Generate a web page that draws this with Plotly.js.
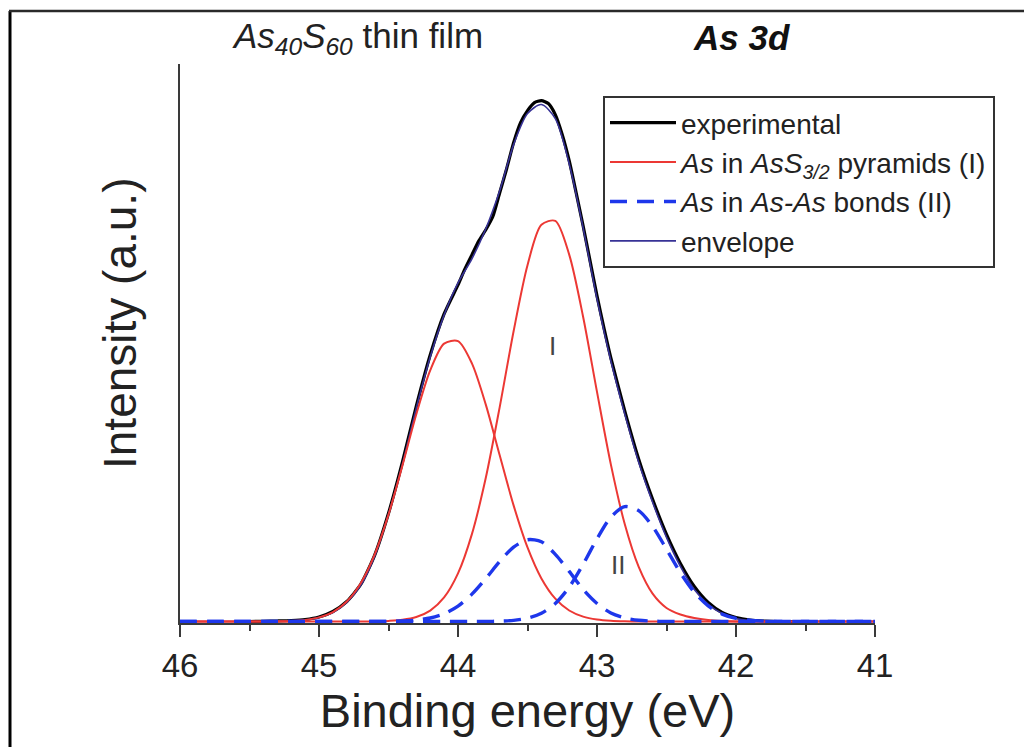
<!DOCTYPE html>
<html>
<head>
<meta charset="utf-8">
<script src="https://cdn.plot.ly/plotly-3.0.1.min.js"></script>
<style>
  html, body { margin: 0; padding: 0; background: #ffffff; }
  #chart { width: 1024px; height: 747px; }
</style>
</head>
<body>
<div id="chart"></div>
<script>
// Binding energy grid (eV) for fitted components and envelope
const energy = [46.0, 45.9, 45.8, 45.7, 45.6, 45.5, 45.4, 45.3, 45.2, 45.1,
                45.0, 44.9, 44.8, 44.7, 44.6, 44.5, 44.4, 44.3, 44.2, 44.1,
                44.0, 43.9, 43.8, 43.7, 43.6, 43.5, 43.4, 43.3, 43.2, 43.1,
                43.0, 42.9, 42.8, 42.7, 42.6, 42.5, 42.4, 42.3, 42.2, 42.1,
                42.0, 41.9, 41.8, 41.7, 41.6, 41.5, 41.4, 41.3, 41.2, 41.1, 41.0];

// As in AsS3/2 pyramids (I): 3d3/2 component (~44.04 eV)
const pyramidsHigh = [0, 0, 0, 0, 0, 0, 0, 0.002, 0.006, 0.016,
                      0.041, 0.094, 0.199, 0.382, 0.668, 1.067, 1.556, 2.068, 2.507, 2.774,
                      2.799, 2.577, 2.165, 1.659, 1.159, 0.739, 0.430, 0.228, 0.110, 0.049,
                      0.020, 0.007, 0.002, 0, 0, 0, 0, 0, 0, 0,
                      0, 0, 0, 0, 0, 0, 0, 0, 0, 0, 0];
// As in AsS3/2 pyramids (I): 3d5/2 component (~43.35 eV)
const pyramidsLow = [0, 0, 0, 0, 0, 0, 0, 0, 0, 0,
                     0, 0, 0, 0, 0, 0.006, 0.017, 0.045, 0.109, 0.240,
                     0.480, 0.872, 1.434, 2.140, 2.897, 3.556, 3.960, 3.999, 3.662, 3.042,
                     2.292, 1.566, 0.970, 0.545, 0.278, 0.135, 0.070, 0.035, 0.015, 0.005,
                     0, 0, 0, 0, 0, 0, 0, 0, 0, 0, 0];
// As in As-As bonds (II): 3d3/2 component (~43.47 eV)
const bondsHigh = [0, 0, 0, 0, 0, 0, 0, 0, 0, 0,
                   0, 0, 0, 0, 0, 0, 0.005, 0.014, 0.035, 0.077,
                   0.154, 0.273, 0.429, 0.599, 0.742, 0.816, 0.796, 0.670, 0.500, 0.320,
                   0.180, 0.085, 0.035, 0.012, 0.004, 0, 0, 0, 0, 0,
                   0, 0, 0, 0, 0, 0, 0, 0, 0, 0, 0];
// As in As-As bonds (II): 3d5/2 component (~42.78 eV)
const bondsLow = [0, 0, 0, 0, 0, 0, 0, 0, 0, 0,
                  0, 0, 0, 0, 0, 0, 0, 0, 0, 0,
                  0, 0, 0, 0.004, 0.011, 0.033, 0.082, 0.180, 0.343, 0.570,
                  0.825, 1.042, 1.147, 1.107, 0.949, 0.722, 0.487, 0.292, 0.156, 0.074,
                  0.031, 0.012, 0.004, 0, 0, 0, 0, 0, 0, 0, 0];
// Envelope (sum of fitted components)
const envelope = [0, 0, 0, 0, 0, 0, 0, 0.002, 0.006, 0.015,
                  0.04, 0.09, 0.19, 0.36, 0.65, 1.07, 1.57, 2.13, 2.64, 3.06,
                  3.38, 3.62, 3.92, 4.30, 4.76, 5.07, 5.16, 5.02, 4.57, 3.93,
                  3.22, 2.60, 2.07, 1.59, 1.19, 0.84, 0.55, 0.32, 0.17, 0.08,
                  0.03, 0.01, 0.004, 0, 0, 0, 0, 0, 0, 0, 0];

// Experimental spectrum
const expEnergy = [45.5, 45.4, 45.3, 45.2, 45.1, 45.0, 44.9, 44.8, 44.7, 44.6,
                   44.5, 44.4, 44.3, 44.2, 44.1, 44.0, 43.95, 43.9, 43.85, 43.8,
                   43.75, 43.7, 43.65, 43.6, 43.55, 43.5, 43.45, 43.4, 43.35, 43.3,
                   43.25, 43.2, 43.15, 43.1, 43.05, 43.0, 42.95, 42.9, 42.8, 42.7,
                   42.6, 42.5, 42.4, 42.3, 42.2, 42.1, 42.0, 41.9, 41.8, 41.7, 41.5];
const expIntensity = [0, 0.001, 0.005, 0.01, 0.02, 0.045, 0.10, 0.20, 0.37, 0.66,
                      1.08, 1.59, 2.15, 2.66, 3.07, 3.36, 3.52, 3.66, 3.80, 3.91,
                      4.04, 4.28, 4.52, 4.78, 4.98, 5.10, 5.18, 5.20, 5.17, 5.06,
                      4.86, 4.60, 4.28, 3.95, 3.60, 3.25, 2.93, 2.63, 2.10, 1.62,
                      1.22, 0.87, 0.58, 0.35, 0.19, 0.09, 0.04, 0.015, 0.005, 0, 0];

const tickVals = [46, 45, 44, 43, 42, 41];
const tickText = ['46', '45', '44', '43', '42', '41'];

const FONT = 'Liberation Sans, Arial, Helvetica, sans-serif';
const RED = 'rgb(236, 56, 52)';
const BLUE = 'rgb(30, 55, 235)';
const NAVY = 'rgb(55, 50, 150)';

const traces = [
  {x: expEnergy, y: expIntensity, type: 'scatter', mode: 'lines', name: 'experimental',
   line: {color: '#000000', width: 3.2, shape: 'spline', smoothing: 0.6}, legendrank: 1},
  {x: energy, y: envelope, type: 'scatter', mode: 'lines', name: 'envelope',
   line: {color: NAVY, width: 1.6, shape: 'spline', smoothing: 0.8}, legendrank: 4},
  {x: energy, y: pyramidsHigh, type: 'scatter', mode: 'lines',
   name: '<i>As</i> in <i>AsS<sub>3/2</sub></i> pyramids (I)', legendgroup: 'I',
   line: {color: RED, width: 2, shape: 'spline', smoothing: 0.8}, legendrank: 2},
  {x: energy, y: pyramidsLow, type: 'scatter', mode: 'lines',
   name: 'I-low', legendgroup: 'I', showlegend: false,
   line: {color: RED, width: 2, shape: 'spline', smoothing: 0.8}},
  {x: energy, y: bondsHigh, type: 'scatter', mode: 'lines',
   name: '<i>As</i> in <i>As-As</i> bonds (II)', legendgroup: 'II',
   line: {color: BLUE, width: 3.4, dash: '17px,10px', shape: 'spline', smoothing: 0.8}, legendrank: 3},
  {x: energy, y: bondsLow, type: 'scatter', mode: 'lines',
   name: 'II-low', legendgroup: 'II', showlegend: false,
   line: {color: BLUE, width: 3.4, dash: '17px,10px', shape: 'spline', smoothing: 0.8}}
];

// pixel -> paper helpers (plot area: left 180, right 875, top 64, bottom 623)
const PL = 180, PR = 875, PT = 64, PB = 623;
const px = v => (v - PL) / (PR - PL);
const py = v => (PB - v) / (PB - PT);

const layout = {
  width: 1024, height: 747,
  margin: {l: PL, r: 1024 - PR, t: PT, b: 747 - PB, pad: 0},
  paper_bgcolor: '#ffffff', plot_bgcolor: '#ffffff',
  font: {family: FONT, color: '#222222'},
  showlegend: true,
  xaxis: {
    range: [46, 41], autorange: false,
    tickmode: 'array', tickvals: tickVals, ticktext: tickText,
    ticks: 'outside', ticklen: 12, tickwidth: 2, tickcolor: '#3a3a3a',
    minor: {dtick: 0.5, tick0: 41, ticks: 'outside', ticklen: 6, tickwidth: 1.5, tickcolor: '#3a3a3a', showgrid: false},
    showline: true, linecolor: '#3a3a3a', linewidth: 2,
    showgrid: false, zeroline: false,
    tickfont: {family: FONT, size: 33, color: '#222222'},
    title: {text: 'Binding energy (eV)', font: {family: FONT, size: 47, color: '#222222'}, standoff: 6},
    automargin: false
  },
  yaxis: {
    range: [-0.015, 5.565], autorange: false,
    showticklabels: false, ticks: '',
    showline: true, linecolor: '#3a3a3a', linewidth: 2,
    showgrid: false, zeroline: false,
    automargin: false
  },
  legend: {
    x: px(603), y: py(96), xanchor: 'left', yanchor: 'top',
    bgcolor: '#ffffff', bordercolor: '#333333', borderwidth: 2,
    font: {family: FONT, size: 28, color: '#222222'},
    itemwidth: 66, tracegroupgap: 0, traceorder: 'normal'
  },
  annotations: [
    {xref: 'paper', yref: 'paper', x: px(120), y: py(324), xanchor: 'center', yanchor: 'middle',
     text: 'Intensity (a.u.)', textangle: -90, showarrow: false,
     font: {family: FONT, size: 46, color: '#222222'}},
    {xref: 'paper', yref: 'paper', x: px(230), y: py(38), xanchor: 'left', yanchor: 'middle',
     text: '<i>As<sub>40</sub>S<sub>60</sub></i> thin film', showarrow: false,
     font: {family: FONT, size: 35, color: '#222222'}},
    {xref: 'paper', yref: 'paper', x: px(741), y: py(38), xanchor: 'center', yanchor: 'middle',
     text: '<b><i>As 3d</i></b>', showarrow: false,
     font: {family: FONT, size: 35, color: '#111111'}},
    {xref: 'x', yref: 'y', x: 43.32, y: 2.75, text: 'I', showarrow: false,
     font: {family: FONT, size: 26, color: '#444444'}},
    {xref: 'x', yref: 'y', x: 42.85, y: 0.56, text: 'II', showarrow: false,
     font: {family: FONT, size: 26, color: '#444444'}}
  ],
  shapes: [
    {type: 'line', xref: 'paper', yref: 'paper', x0: px(10), x1: px(10), y0: py(760), y1: py(11),
     line: {color: '#000000', width: 3}},
    {type: 'line', xref: 'paper', yref: 'paper', x0: px(9), x1: px(1040), y0: py(11), y1: py(11),
     line: {color: '#2a2a2a', width: 2.5}}
  ]
};

Plotly.newPlot('chart', traces, layout, {displayModeBar: false, responsive: false});
</script>
</body>
</html>
